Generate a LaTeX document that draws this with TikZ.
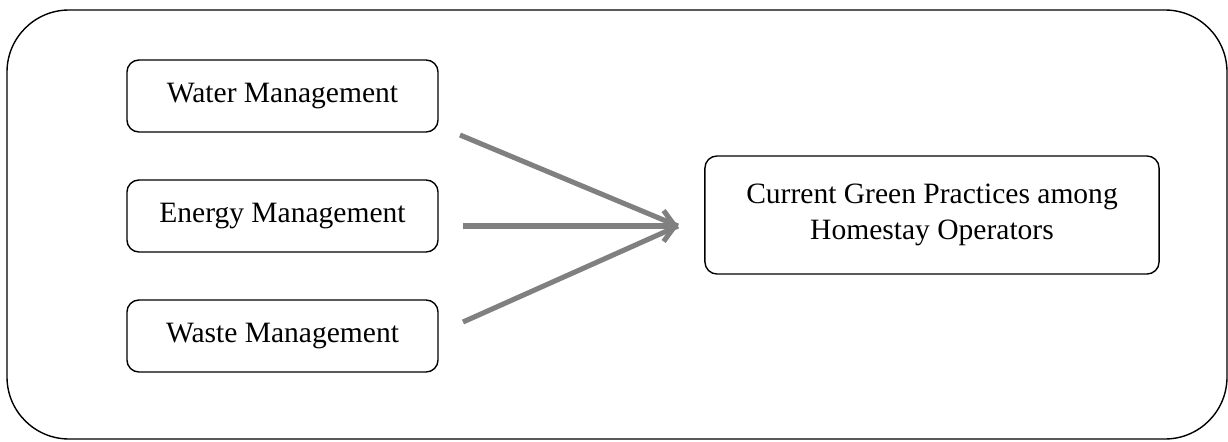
\documentclass[tikz,border=0pt]{standalone}
\usepackage{fontspec}
\setmainfont{Liberation Serif}
\usetikzlibrary{arrows.meta}
\tikzset{box/.style={draw, line width=1pt, rounded corners=0.3cm, align=center,
  font=\fontsize{21}{25.5}\selectfont}}
\tikzset{small/.style={box, minimum width=7.775cm, minimum height=1.8cm}}
\tikzset{flow/.style={draw=gray, line width=3.6pt}}

\begin{document}
\begin{tikzpicture}[x=0.025cm, y=-0.025cm]
  \useasboundingbox (0,0) rectangle (1228,441);
  \draw [line width=1pt, rounded corners=1.55cm] (7,10) rectangle (1227,439);
  \node [small] (water) at (282.5,96) {Water Management};
  \node [small] (energy) at (282.5,216) {Energy Management};
  \node [small] (waste) at (282.5,336) {Waste Management};
  \node [box, minimum width=11.35cm, minimum height=2.95cm] (green) at (932,215)
    {Current Green Practices among\\Homestay Operators};
  % arrows
  \coordinate (tip) at (678,226);
  \coordinate (w) at (460,135);
  \coordinate (e) at (463,226);
  \coordinate (s) at (463,322);
  \draw [flow] (w) -- (tip);
  \draw [flow] (s) -- (tip);
  \draw [flow, -{Straight Barb[length=8pt,width=22pt]}] (e) -- (tip);
\end{tikzpicture}
\end{document}
